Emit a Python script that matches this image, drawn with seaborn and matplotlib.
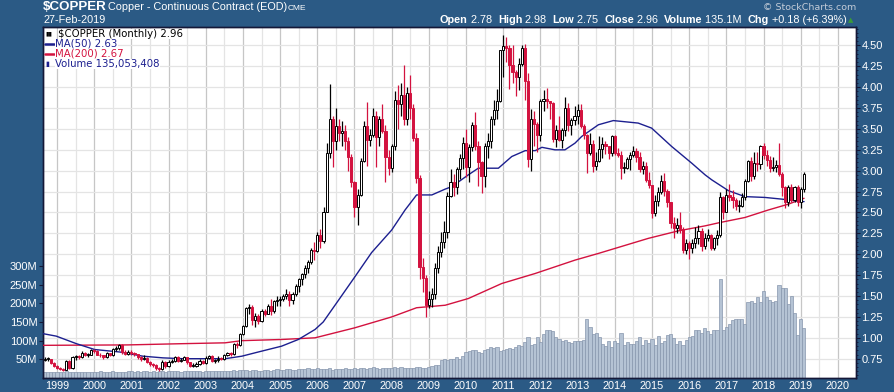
import numpy as np
import pandas as pd
import matplotlib
matplotlib.use("Agg")
import matplotlib.pyplot as plt
from matplotlib.lines import Line2D
from matplotlib.transforms import blended_transform_factory
import seaborn as sns

# monthly bars, Sep-1998 .. Feb-2019, one row per year
first_open = 0.74
closes = [
    0.745, 0.745, 0.700, 0.665,
    0.640, 0.625, 0.620, 0.725, 0.640, 0.765, 0.780, 0.775, 0.820, 0.795, 0.800, 0.855,
    0.845, 0.800, 0.790, 0.770, 0.815, 0.790, 0.865, 0.880, 0.910, 0.825, 0.810, 0.835,
    0.820, 0.805, 0.775, 0.745, 0.760, 0.710, 0.690, 0.670, 0.640, 0.625, 0.710, 0.665,
    0.715, 0.725, 0.770, 0.725, 0.740, 0.765, 0.705, 0.665, 0.665, 0.690, 0.725, 0.700,
    0.755, 0.780, 0.725, 0.730, 0.750, 0.745, 0.800, 0.815, 0.810, 0.930, 0.910, 1.045,
    1.140, 1.360, 1.365, 1.215, 1.265, 1.200, 1.320, 1.290, 1.375, 1.315, 1.440, 1.455,
    1.460, 1.500, 1.530, 1.450, 1.530, 1.615, 1.700, 1.765, 1.840, 1.905, 2.050, 2.045,
    2.230, 2.160, 2.510, 3.210, 3.620, 3.350, 3.530, 3.450, 3.480, 3.360, 3.170, 2.870,
    2.570, 2.710, 3.120, 3.530, 3.370, 3.430, 3.650, 3.400, 3.620, 3.480, 3.170, 3.030,
    3.290, 3.850, 3.800, 3.910, 3.620, 3.930, 3.750, 3.390, 2.910, 1.850, 1.710, 1.390,
    1.460, 1.530, 1.840, 2.030, 2.150, 2.270, 2.700, 2.870, 2.800, 3.020, 3.150, 3.330,
    3.050, 3.280, 3.550, 3.300, 3.100, 2.940, 3.300, 3.360, 3.620, 3.730, 3.830, 4.440,
    4.490, 4.470, 4.270, 4.180, 4.120, 4.280, 4.470, 4.070, 3.140, 3.620, 3.560, 3.430,
    3.830, 3.860, 3.830, 3.810, 3.380, 3.490, 3.370, 3.490, 3.750, 3.550, 3.610, 3.650,
    3.730, 3.530, 3.430, 3.210, 3.320, 3.060, 3.120, 3.260, 3.320, 3.300, 3.210, 3.410,
    3.210, 3.190, 3.030, 3.030, 3.140, 3.190, 3.230, 3.170, 3.020, 3.060, 2.890, 2.830,
    2.490, 2.640, 2.750, 2.880, 2.760, 2.620, 2.370, 2.310, 2.350, 2.300, 2.050, 2.130,
    2.070, 2.140, 2.190, 2.280, 2.100, 2.200, 2.230, 2.070, 2.190, 2.230, 2.680, 2.510,
    2.710, 2.690, 2.650, 2.580, 2.580, 2.690, 2.880, 3.120, 2.940, 3.090, 3.080, 3.300,
    3.190, 3.130, 3.030, 3.050, 3.070, 2.960, 2.800, 2.630, 2.800, 2.650, 2.800, 2.630,
    2.780, 2.960,
]
highs = [
    0.770, 0.765, 0.750, 0.710,
    0.680, 0.655, 0.640, 0.740, 0.735, 0.780, 0.800, 0.800, 0.840, 0.830, 0.820, 0.870,
    0.870, 0.850, 0.820, 0.800, 0.830, 0.820, 0.880, 0.900, 0.930, 0.920, 0.850, 0.860,
    0.850, 0.830, 0.810, 0.780, 0.790, 0.770, 0.720, 0.700, 0.690, 0.650, 0.730, 0.720,
    0.730, 0.750, 0.780, 0.780, 0.760, 0.780, 0.770, 0.710, 0.700, 0.710, 0.750, 0.740,
    0.780, 0.800, 0.790, 0.745, 0.780, 0.770, 0.810, 0.830, 0.830, 0.940, 0.950, 1.055,
    1.150, 1.370, 1.400, 1.390, 1.300, 1.290, 1.340, 1.340, 1.400, 1.460, 1.450, 1.500,
    1.500, 1.520, 1.580, 1.560, 1.550, 1.650, 1.710, 1.780, 1.870, 1.930, 2.080, 2.150,
    2.270, 2.300, 2.560, 3.330, 4.040, 3.650, 3.750, 3.620, 3.600, 3.550, 3.400, 3.200,
    2.880, 2.780, 3.150, 3.600, 3.820, 3.500, 3.750, 3.720, 3.660, 3.800, 3.550, 3.250,
    3.320, 3.950, 4.030, 4.050, 4.260, 4.000, 4.150, 3.800, 3.450, 2.950, 1.950, 1.750,
    1.560, 1.600, 1.900, 2.100, 2.270, 2.400, 2.750, 3.020, 2.960, 3.050, 3.200, 3.400,
    3.500, 3.320, 3.580, 3.700, 3.350, 3.120, 3.330, 3.450, 3.660, 3.850, 3.980, 4.450,
    4.630, 4.600, 4.500, 4.500, 4.200, 4.350, 4.500, 4.520, 4.170, 3.740, 3.720, 3.580,
    3.860, 3.960, 3.990, 3.840, 3.820, 3.550, 3.660, 3.510, 3.880, 3.810, 3.630, 3.780,
    3.800, 3.800, 3.560, 3.440, 3.450, 3.370, 3.220, 3.420, 3.400, 3.360, 3.300, 3.430,
    3.430, 3.270, 3.240, 3.100, 3.170, 3.220, 3.300, 3.270, 3.220, 3.120, 3.100, 2.980,
    2.830, 2.710, 2.800, 2.950, 2.970, 2.780, 2.620, 2.450, 2.430, 2.500, 2.330, 2.180,
    2.160, 2.180, 2.330, 2.350, 2.320, 2.250, 2.300, 2.240, 2.210, 2.290, 2.750, 2.700,
    2.780, 2.840, 2.770, 2.670, 2.650, 2.730, 2.900, 3.130, 3.160, 3.220, 3.220, 3.310,
    3.330, 3.250, 3.180, 3.170, 3.130, 3.330, 2.980, 2.820, 2.830, 2.840, 2.820, 2.830,
    2.800, 2.980,
]
lows = [
    0.720, 0.720, 0.690, 0.650,
    0.630, 0.610, 0.600, 0.610, 0.630, 0.625, 0.740, 0.750, 0.760, 0.780, 0.770, 0.790,
    0.820, 0.790, 0.770, 0.750, 0.760, 0.780, 0.780, 0.840, 0.860, 0.810, 0.790, 0.800,
    0.800, 0.780, 0.750, 0.720, 0.730, 0.700, 0.660, 0.650, 0.620, 0.600, 0.615, 0.640,
    0.650, 0.700, 0.715, 0.710, 0.715, 0.730, 0.690, 0.650, 0.645, 0.655, 0.680, 0.690,
    0.690, 0.745, 0.710, 0.700, 0.715, 0.730, 0.730, 0.780, 0.780, 0.800, 0.880, 0.900,
    1.030, 1.130, 1.280, 1.150, 1.130, 1.170, 1.190, 1.260, 1.280, 1.270, 1.300, 1.380,
    1.380, 1.440, 1.470, 1.380, 1.400, 1.500, 1.550, 1.630, 1.710, 1.780, 1.880, 1.930,
    2.030, 2.070, 2.140, 2.500, 3.150, 3.050, 3.250, 3.350, 3.300, 3.250, 3.000, 2.810,
    2.450, 2.350, 2.700, 3.100, 3.060, 3.300, 3.400, 3.050, 3.300, 3.450, 2.870, 2.950,
    2.980, 3.250, 3.500, 3.650, 3.550, 3.550, 3.620, 3.350, 2.850, 1.700, 1.550, 1.250,
    1.360, 1.370, 1.470, 1.780, 1.970, 2.080, 2.200, 2.680, 2.700, 2.720, 2.900, 3.020,
    2.920, 2.860, 3.230, 3.250, 2.820, 2.730, 2.800, 3.150, 3.270, 3.550, 3.620, 3.820,
    4.120, 4.300, 3.980, 4.050, 3.900, 3.970, 4.250, 3.850, 3.050, 3.000, 3.300, 3.220,
    3.350, 3.720, 3.750, 3.620, 3.340, 3.280, 3.350, 3.270, 3.420, 3.480, 3.430, 3.550,
    3.560, 3.510, 3.380, 2.970, 3.190, 2.990, 3.010, 3.110, 3.150, 3.200, 3.140, 3.180,
    3.190, 3.160, 2.900, 2.970, 3.020, 3.010, 3.160, 3.100, 2.980, 2.960, 2.870, 2.790,
    2.430, 2.460, 2.580, 2.720, 2.700, 2.570, 2.320, 2.200, 2.250, 2.250, 2.020, 2.000,
    1.940, 2.020, 2.080, 2.120, 2.040, 2.060, 2.160, 2.050, 2.050, 2.110, 2.210, 2.420,
    2.500, 2.640, 2.550, 2.530, 2.500, 2.560, 2.650, 2.870, 2.880, 2.900, 3.000, 3.020,
    3.140, 3.060, 2.980, 3.000, 2.990, 2.940, 2.700, 2.550, 2.580, 2.630, 2.630, 2.580,
    2.550, 2.750,
]
volumes = [  # millions
    17, 16, 17, 17,
    16, 17, 17, 18, 16, 17, 16, 17, 16, 17, 15, 17,
    17, 16, 18, 17, 16, 17, 18, 17, 16, 17, 17, 18,
    18, 17, 18, 17, 18, 19, 17, 18, 17, 18, 19, 17,
    18, 19, 18, 19, 17, 18, 19, 20, 18, 19, 18, 17,
    19, 18, 20, 19, 20, 18, 19, 20, 19, 21, 20, 21,
    22, 21, 20, 22, 21, 20, 19, 21, 22, 20, 21, 23,
    22, 21, 23, 24, 22, 21, 23, 24, 25, 26, 23, 24,
    26, 24, 25, 23, 27, 22, 24, 25, 23, 26, 24, 25,
    27, 25, 28, 26, 25, 27, 29, 26, 25, 28, 27, 26,
    28, 30, 27, 29, 28, 26, 28, 27, 30, 29, 27, 26,
    30, 32, 34, 34, 47, 52, 47, 50, 52, 56, 52, 60,
    70, 72, 74, 76, 70, 68, 74, 79, 83, 80, 84, 72,
    75, 79, 80, 78, 83, 88, 86, 96, 110, 88, 90, 110,
    96, 119, 128, 128, 125, 110, 104, 100, 102, 96, 94, 98,
    100, 98, 103, 157, 137, 118, 120, 111, 90, 86, 98, 84,
    100, 94, 121, 88, 96, 92, 90, 100, 110, 88, 102, 95,
    105, 88, 112, 94, 98, 115, 118, 108, 90, 100, 88, 102,
    110, 112, 128, 130, 120, 133, 125, 118, 128, 130, 265, 129,
    136, 145, 155, 157, 157, 157, 145, 205, 207, 202, 218, 205,
    233, 218, 209, 205, 207, 249, 240, 240, 198, 220, 175, 115,
    157, 135.05,
]

# moving averages (decimal year, value)
ma50_t = [1998.62, 1998.98, 1999.52, 2000.01, 2000.69, 2001.31, 2001.85, 2002.39,
          2003.52, 2003.97, 2004.41, 2005.04, 2005.49, 2005.94, 2006.16, 2006.57,
          2007.01, 2007.46, 2008.0, 2008.36, 2008.67, 2009.08, 2009.44, 2009.62,
          2010.06, 2010.33, 2010.87, 2011.23, 2011.59, 2011.86, 2012.04, 2012.39,
          2012.66, 2012.93, 2013.11, 2013.56, 2013.96, 2014.63, 2014.99, 2015.53,
          2016.07, 2016.43, 2016.61, 2017.06, 2017.50, 2018.04, 2018.49, 2018.85, 2019.09]
ma50_v = [1.05, 1.02, 0.93, 0.86, 0.83, 0.78, 0.76, 0.75,
          0.75, 0.78, 0.83, 0.90, 0.98, 1.10, 1.19, 1.45,
          1.73, 2.02, 2.29, 2.53, 2.71, 2.71, 2.78, 2.81,
          2.95, 3.03, 3.03, 3.17, 3.24, 3.24, 3.28, 3.25,
          3.25, 3.33, 3.41, 3.55, 3.60, 3.57, 3.51, 3.29,
          3.09, 2.95, 2.89, 2.76, 2.69, 2.68, 2.66, 2.64, 2.63]
ma200_t = [1998.62, 2000.90, 2002.39, 2003.52, 2003.97, 2005.04, 2005.94, 2007.01,
           2008.0, 2008.67, 2009.44, 2010.06, 2010.96, 2011.86, 2012.93, 2013.56,
           2014.90, 2015.71, 2016.43, 2016.83, 2017.50, 2018.13, 2018.67, 2019.09]
ma200_v = [0.91, 0.915, 0.93, 0.94, 0.966, 0.98, 1.00, 1.12,
           1.25, 1.36, 1.39, 1.47, 1.65, 1.77, 1.93, 2.01,
           2.19, 2.28, 2.34, 2.38, 2.44, 2.53, 2.60, 2.67]

price_ticks = [0.75, 1.00, 1.25, 1.50, 1.75, 2.00, 2.25, 2.50, 2.75, 3.00,
               3.25, 3.50, 3.75, 4.00, 4.25, 4.50]
vol_ticks = [50, 100, 150, 200, 250, 300]
years = list(range(1999, 2021))

sns.set_theme(style="white")
plt.rcParams["font.family"] = ["Liberation Sans", "DejaVu Sans"]

W, H = 894, 392
BG = "#2b5a85"
RED = "#d3123f"
NAVY = "#1c1f8f"
VOL_FACE = "#b5c3d4"
VOL_EDGE = "#8796ad"
FRAME = "#141838"

months = pd.period_range("1998-09", periods=len(closes), freq="M")
df = pd.DataFrame({"t": months.year + (months.month - 1) / 12,
                   "close": closes, "high": highs, "low": lows, "volume": volumes})
df["open"] = [first_open] + closes[:-1]
df["up"] = df["close"] >= df["open"]


def fx(px):
    return px / W


def fy(py):
    return 1 - py / H


fig = plt.figure(figsize=(W / 100, H / 100), dpi=100, facecolor=BG)
ax_v = fig.add_axes([fx(43), fy(378), fx(856) - fx(43), fy(27) - fy(378)])
ax_p = ax_v.twinx()
ax_v.set_facecolor("white")
ax_v.set_xlim(1998.623, 2020.487)
ax_v.set_ylim(0, 941)
ax_p.set_ylim(0.519, 4.72)

# grid
for yr in years:
    ax_v.axvline(yr, color="#c6c6c6", lw=0.9, zorder=0)
    ax_v.axvline(yr - 0.5, color="#e4e4e4", lw=0.9, zorder=0)
tr = blended_transform_factory(ax_v.transAxes, ax_p.transData)
for p in price_ticks:
    ax_v.plot([0, 1], [p, p], transform=tr, color="#e4e4e4", lw=0.9, zorder=0)

# volume
ax_v.bar(df["t"], df["volume"], width=1 / 12, color=VOL_FACE,
         edgecolor=VOL_EDGE, linewidth=0.5, zorder=2)

# moving averages
sns.lineplot(x=ma200_t, y=ma200_v, ax=ax_p, color=RED, lw=1.0, zorder=3)
sns.lineplot(x=ma50_t, y=ma50_v, ax=ax_p, color=NAVY, lw=1.0, zorder=3)

# candles
wick_col = np.where(df["up"], "black", RED)
ax_p.vlines(df["t"], df["low"], df["high"], colors=wick_col, lw=0.9, zorder=4)
body_lo = df[["open", "close"]].min(axis=1)
body_h = (df["close"] - df["open"]).abs().clip(lower=0.01)
ax_p.bar(df["t"], body_h, bottom=body_lo, width=0.058,
         color=np.where(df["up"], "white", RED), edgecolor=wick_col,
         linewidth=0.7, zorder=5)

# axes styling
ax_p.yaxis.tick_right()
ax_p.set_yticks(price_ticks)
ax_p.set_yticklabels([f"{p:.2f}" for p in price_ticks])
ax_p.tick_params(axis="y", which="major", length=3, width=0.8, color=FRAME,
                 labelcolor="white", labelsize=8, pad=1)
ax_p.set_yticks(np.arange(0.55, 4.72, 0.05), minor=True)
ax_p.tick_params(axis="y", which="minor", length=1.5, width=0.6, color=FRAME)

ax_v.yaxis.tick_left()
ax_v.set_yticks(vol_ticks)
ax_v.set_yticklabels([f"{v}M" for v in vol_ticks])
ax_v.tick_params(axis="y", length=3, width=0.8, color=FRAME,
                 labelcolor="white", labelsize=8, pad=1)
ax_v.set_xticks(years)
ax_v.set_xticklabels([str(y) for y in years])
ax_v.set_xticks(np.arange(1998.667, 2020.49, 1 / 12), minor=True)
ax_v.tick_params(axis="x", which="major", length=2, width=0.8, color=FRAME,
                 labelcolor="white", labelsize=7.8, pad=0.5)
ax_v.tick_params(axis="x", which="minor", length=1.5, width=0.6, color=FRAME)
ax_v.set_xlabel("")
ax_v.set_ylabel("")
ax_p.set_ylabel("")
for a in (ax_v, ax_p):
    for s in a.spines.values():
        s.set_color(FRAME)
        s.set_linewidth(1.0)

# legend block
leg = [(r"\$COPPER (Monthly) 2.96", "black", None),
       ("MA(50) 2.63", NAVY, NAVY),
       ("MA(200) 2.67", RED, RED),
       ("Volume 135,053,408", NAVY, None)]
for i, (txt, col, lc) in enumerate(leg):
    ypx = 34 + i * 10
    x0 = 58 if i == 0 else 55
    if lc is not None:
        fig.add_artist(Line2D([fx(45), fx(54)], [fy(ypx), fy(ypx)], color=lc, lw=1.8))
    fig.text(fx(x0), fy(ypx), txt, color=col, fontsize=7.3, va="center",
             family="DejaVu Sans",
             bbox=dict(facecolor="white", edgecolor="none", pad=0.3))
fig.text(fx(45), fy(34), "▮▮", color="black", fontsize=4.5, va="center",
         family="DejaVu Sans")
fig.text(fx(45), fy(64), "▮", color=NAVY, fontsize=5, va="center",
         family="DejaVu Sans")

# header
fig.text(fx(43), fy(7.5), r"\$COPPER", color="white", fontsize=9.6,
         fontweight="bold", va="center")
fig.text(fx(108), fy(7.5), "Copper - Continuous Contract (EOD)", color="white",
         fontsize=7.8, va="center")
fig.text(fx(288), fy(8), "CME", color="white", fontsize=6, va="center")
fig.text(fx(43), fy(20), "27-Feb-2019", color="white", fontsize=7.8, va="center")
fig.text(fx(856), fy(7), "© StockCharts.com", color="#c3ccd8", fontsize=6.8,
         va="center", ha="right", family="DejaVu Sans")

pieces = [("Open", True), (" 2.78  ", False), ("High", True), (" 2.98  ", False),
          ("Low", True), (" 2.75  ", False), ("Close", True), (" 2.96  ", False),
          ("Volume", True), (" 135.1M  ", False), ("Chg", True),
          (" +0.18 (+6.39%)", False)]
renderer = fig.canvas.get_renderer()
texts = []
for s, bold in pieces:
    t = fig.text(0, fy(20), s, color="white", fontsize=7.8, va="center",
                 fontweight="bold" if bold else "normal")
    texts.append(t)
widths = [t.get_window_extent(renderer).width for t in texts]
xpos = 847 - sum(widths)
for t, w in zip(texts, widths):
    t.set_x(fx(xpos))
    xpos += w
fig.text(fx(851), fy(20), "▲", color="#3a9a3a", fontsize=5, va="center",
         ha="center", family="DejaVu Sans")

fig.savefig("out.png", dpi=100, facecolor=BG)
